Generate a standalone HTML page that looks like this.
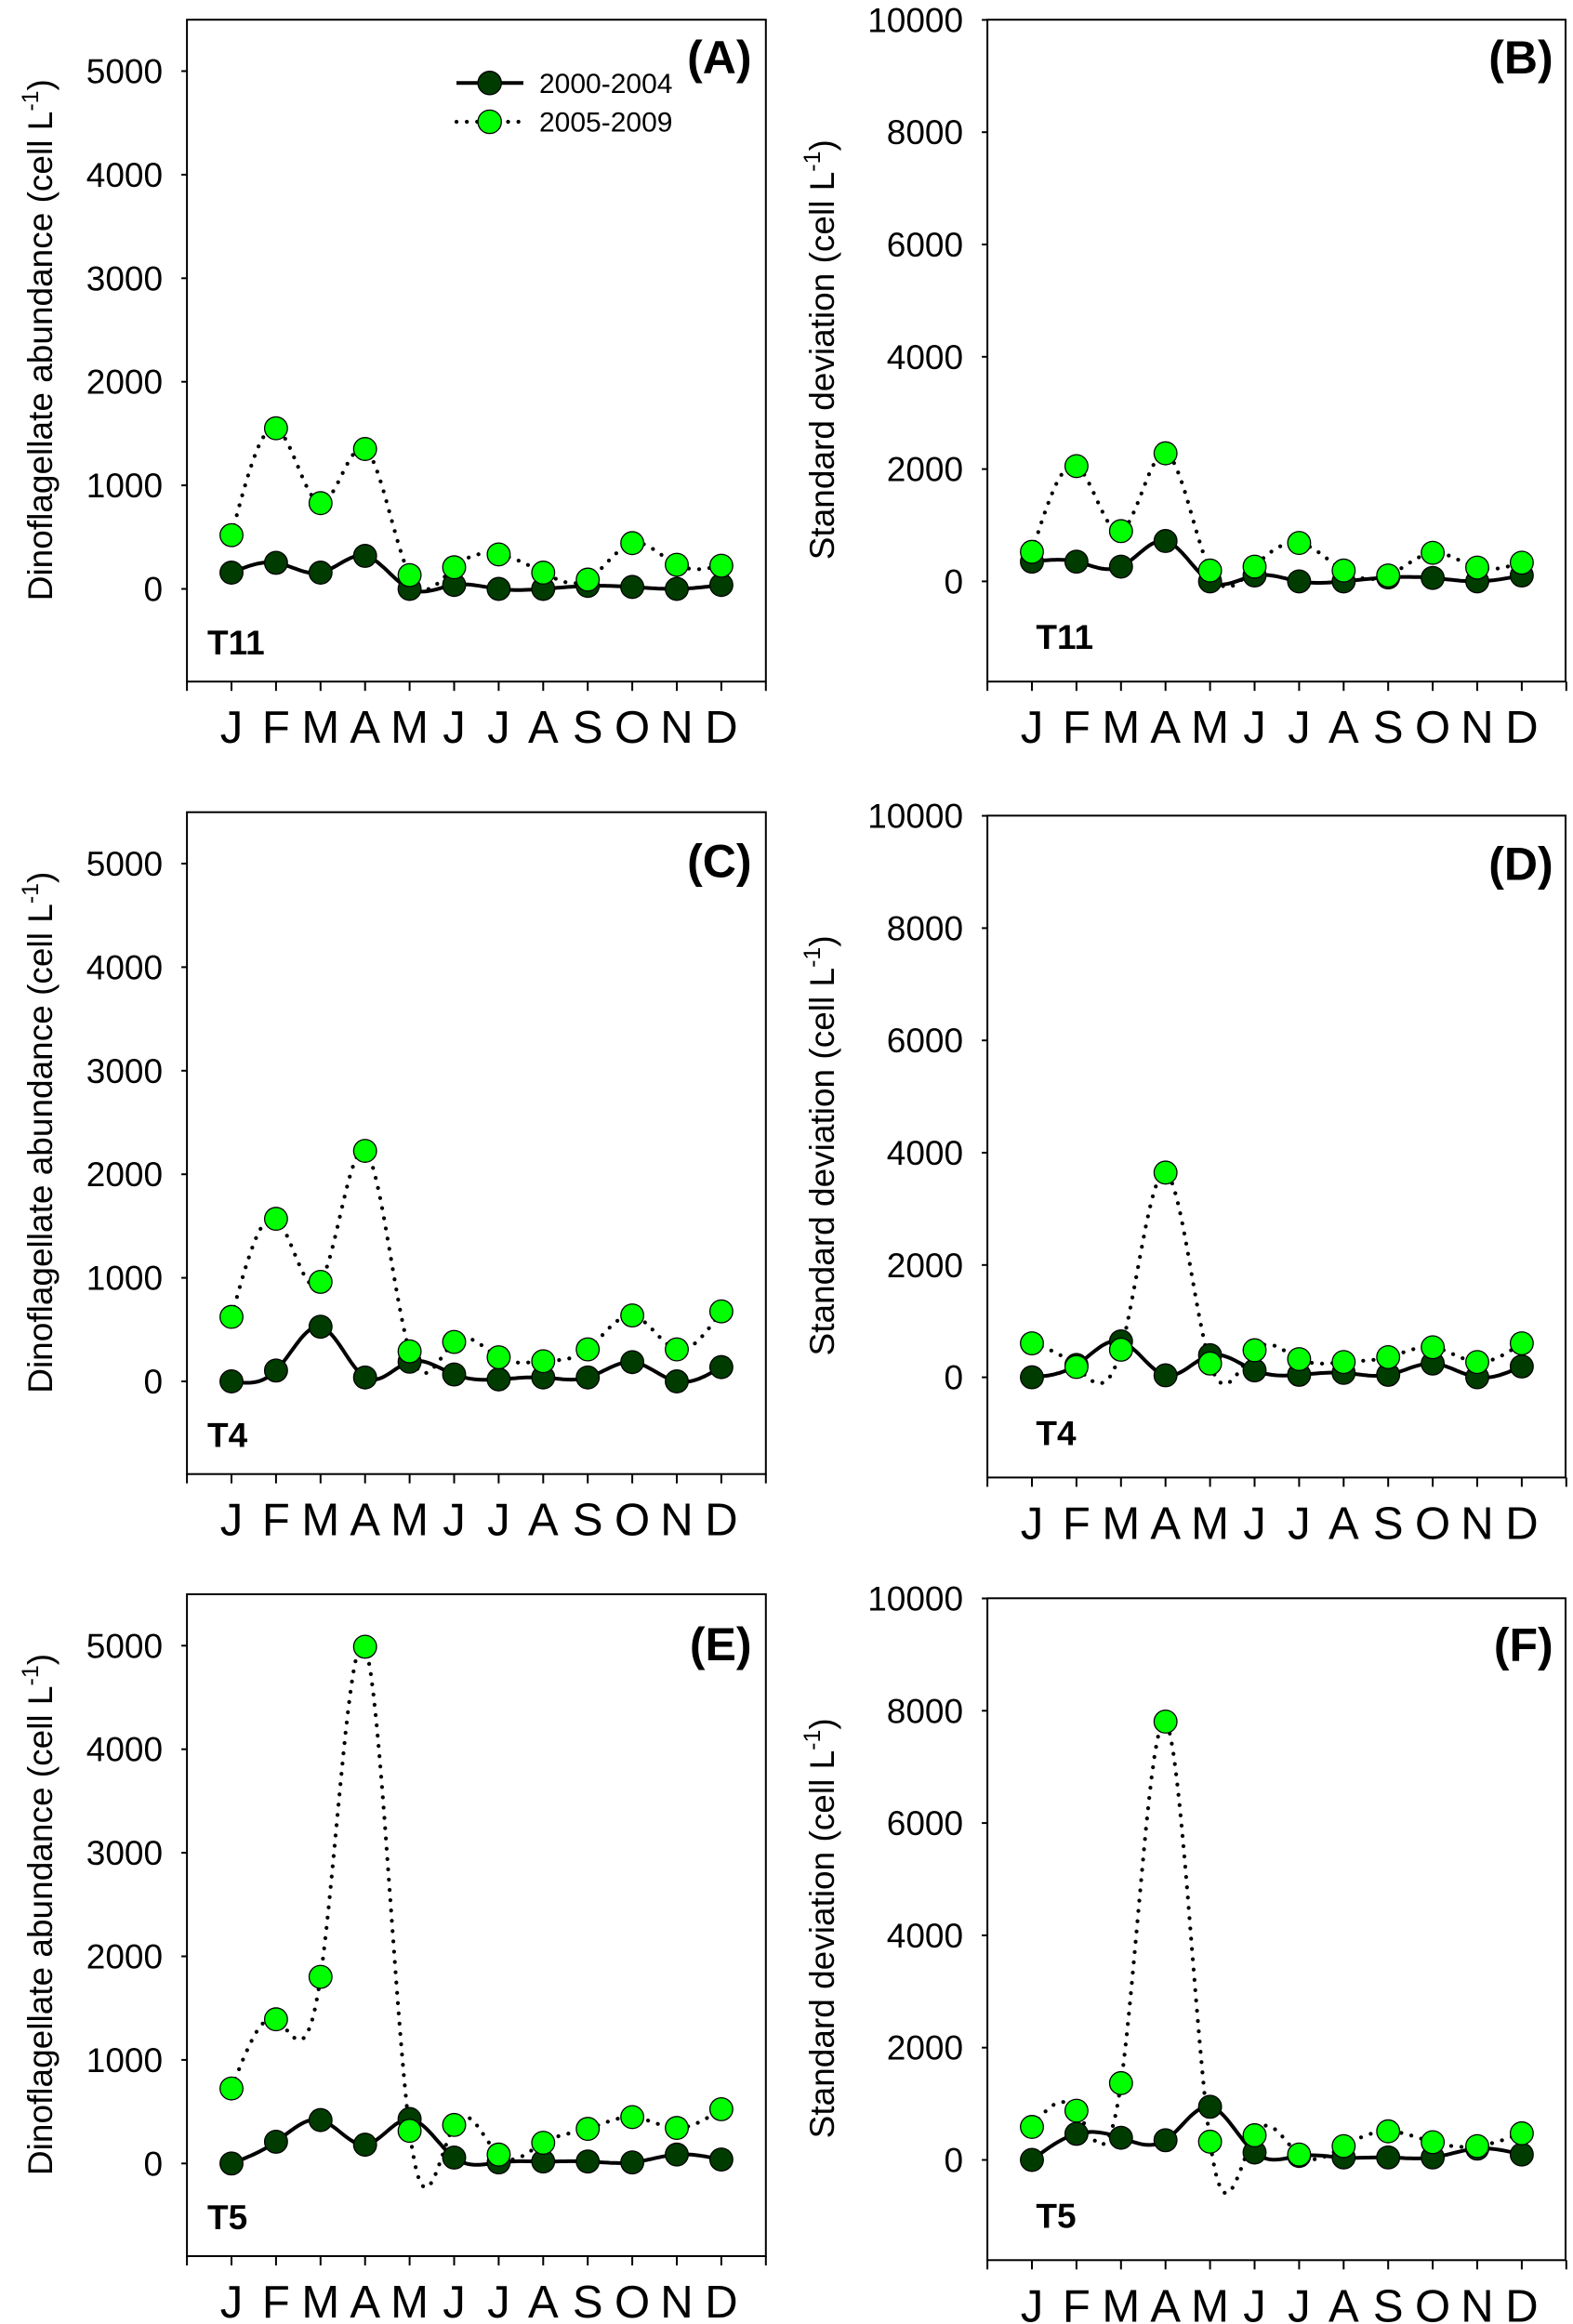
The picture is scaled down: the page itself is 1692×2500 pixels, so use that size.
<!DOCTYPE html>
<html><head><meta charset="utf-8"><style>
html,body{margin:0;padding:0;background:#fff;}
svg{display:block;font-family:"Liberation Sans",Arial,sans-serif;}
</style></head><body>
<svg id="s" width="1692" height="2500" viewBox="0 0 1692 2500" xmlns="http://www.w3.org/2000/svg"></svg>
<script>
var S=document.getElementById('s');var out='';
var DK='#003c00',LT='#00ff00';
function spline(xs,ys){
 var n=xs.length,h=[],a=[],l=[1],mu=[0],z=[0],c=new Array(n).fill(0),b=[],d=[];
 for(var i=0;i<n-1;i++)h[i]=xs[i+1]-xs[i];
 for(i=1;i<n-1;i++)a[i]=3/h[i]*(ys[i+1]-ys[i])-3/h[i-1]*(ys[i]-ys[i-1]);
 for(i=1;i<n-1;i++){l[i]=2*(xs[i+1]-xs[i-1])-h[i-1]*mu[i-1];mu[i]=h[i]/l[i];z[i]=(a[i]-h[i-1]*z[i-1])/l[i];}
 l[n-1]=1;z[n-1]=0;
 for(var j=n-2;j>=0;j--){c[j]=z[j]-mu[j]*c[j+1];b[j]=(ys[j+1]-ys[j])/h[j]-h[j]*(c[j+1]+2*c[j])/3;d[j]=(c[j+1]-c[j])/(3*h[j]);}
 var p='M'+xs[0].toFixed(1)+','+ys[0].toFixed(1);
 for(i=0;i<n-1;i++){for(var k=1;k<=16;k++){var t=h[i]*k/16;var y=ys[i]+b[i]*t+c[i]*t*t+d[i]*t*t*t;p+='L'+(xs[i]+t).toFixed(1)+','+y.toFixed(1);}}
 return p;
}
function panel(o){
 var left=o.left,top=o.top,H=712,bot=top+H;
 var xJ=left?249:1110,dx=47.9,x0=xJ-dx,x1=left?x0+13*dx:1684;
 var y0=top+(left?612.3:604.2),sc=left?0.1114:0.0604;
 function Y(v){return y0-v*sc;}
 out+='<rect x="'+x0+'" y="'+top+'" width="'+(x1-x0)+'" height="'+H+'" fill="none" stroke="#000" stroke-width="2"/>';
 for(var i=0;i<=13;i++){var x=x0+i*dx;if(x>1691)continue;out+='<line x1="'+x+'" y1="'+bot+'" x2="'+x+'" y2="'+(bot+10)+'" stroke="#000" stroke-width="2"/>';}
 var M='JFMAMJJASOND';
 for(i=0;i<12;i++)out+='<text x="'+(xJ+i*dx)+'" y="'+(bot+66)+'" font-size="49" text-anchor="middle">'+M[i]+'</text>';
 var step=left?1000:2000,mx=left?5000:10000;
 for(var v=0;v<=mx;v+=step){out+='<line x1="'+(x0-6)+'" y1="'+Y(v)+'" x2="'+x0+'" y2="'+Y(v)+'" stroke="#000" stroke-width="2"/>';
  out+='<text x="'+(x0-26)+'" y="'+(Y(v)+13)+'" font-size="37" text-anchor="end">'+v+'</text>';}
 var tx=left?43:884,ty=top+(left?344.5:355);
 var title=left?'Dinoflagellate abundance (cell L':'Standard deviation (cell L';
 out+='<text transform="translate('+(tx+13)+','+ty+') rotate(-90)" font-size="37" text-anchor="middle">'+title+'<tspan font-size="25" dy="-15">-1</tspan><tspan dy="15">)</tspan></text>';
 out+='<text x="'+(left?223:1114.4)+'" y="'+(top+(left?683:677))+'" font-size="37" font-weight="bold">'+o.t+'</text>';
 out+='<text x="'+(left?808.5:1670.7)+'" y="'+(top+o.ly)+'" font-size="50" font-weight="bold" text-anchor="end">('+o.L+')</text>';
 var xs=[];for(i=0;i<12;i++)xs.push(xJ+i*dx);
 var yd=o.d.map(Y),yl=o.l.map(Y);
 out+='<path d="'+spline(xs,yd)+'" fill="none" stroke="#000" stroke-width="4"/>';
 out+='<path d="'+spline(xs,yl)+'" fill="none" stroke="#000" stroke-width="4.2" stroke-dasharray="0.1 11" stroke-linecap="round"/>';
 for(i=0;i<12;i++)out+='<circle cx="'+xs[i]+'" cy="'+yd[i]+'" r="12.3" fill="'+DK+'" stroke="#000" stroke-width="1.3"/>';
 for(i=0;i<12;i++)out+='<circle cx="'+xs[i]+'" cy="'+yl[i]+'" r="12.3" fill="'+LT+'" stroke="#000" stroke-width="1.3"/>';
}
panel({left:1,top:21.2,t:'T11',L:'A',ly:58,
 d:[157,252,157,319,0,38,0,0,29,19,0,38],l:[519,1551,828,1351,133,209,333,157,90,442,233,224]});
panel({left:0,top:21.2,t:'T11',L:'B',ly:58,
 d:[351,351,263,719,0,105,0,0,70,61,0,105],l:[526,2053,895,2281,193,263,684,193,105,509,246,333]});
panel({left:1,top:873.7,t:'T4',L:'C',ly:70,
 d:[0,105,528,38,190,67,19,38,38,186,0,138],l:[623,1570,961,2226,290,381,233,195,309,637,309,676]});
panel({left:0,top:877.4,t:'T4',L:'D',ly:69,
 d:[0,219,640,35,394,123,44,79,44,245,0,193],l:[605,184,491,3646,245,482,324,272,359,535,272,605]});
panel({left:1,top:1715,t:'T5',L:'E',ly:71,
 d:[0,210,419,181,429,57,10,19,19,10,86,38],l:[724,1392,1802,4990,315,372,86,200,334,448,343,524]});
panel({left:0,top:1719.3,t:'T5',L:'F',ly:67,
 d:[0,465,395,351,947,132,70,44,44,44,202,96],l:[588,877,1368,7807,325,439,96,246,509,316,246,474]});
out+='<line x1="491" y1="89.3" x2="563" y2="89.3" stroke="#000" stroke-width="4"/>';
out+='<circle cx="526.7" cy="89.3" r="12.6" fill="'+DK+'" stroke="#000" stroke-width="1.3"/>';
out+='<line x1="491" y1="131" x2="563" y2="131" stroke="#000" stroke-width="4.2" stroke-dasharray="0.1 11" stroke-linecap="round"/>';
out+='<circle cx="526.7" cy="131" r="12.6" fill="'+LT+'" stroke="#000" stroke-width="1.3"/>';
out+='<text x="580" y="100" font-size="30">2000-2004</text>';
out+='<text x="580" y="141.7" font-size="30">2005-2009</text>';
S.innerHTML=out;
</script>
</body></html>
